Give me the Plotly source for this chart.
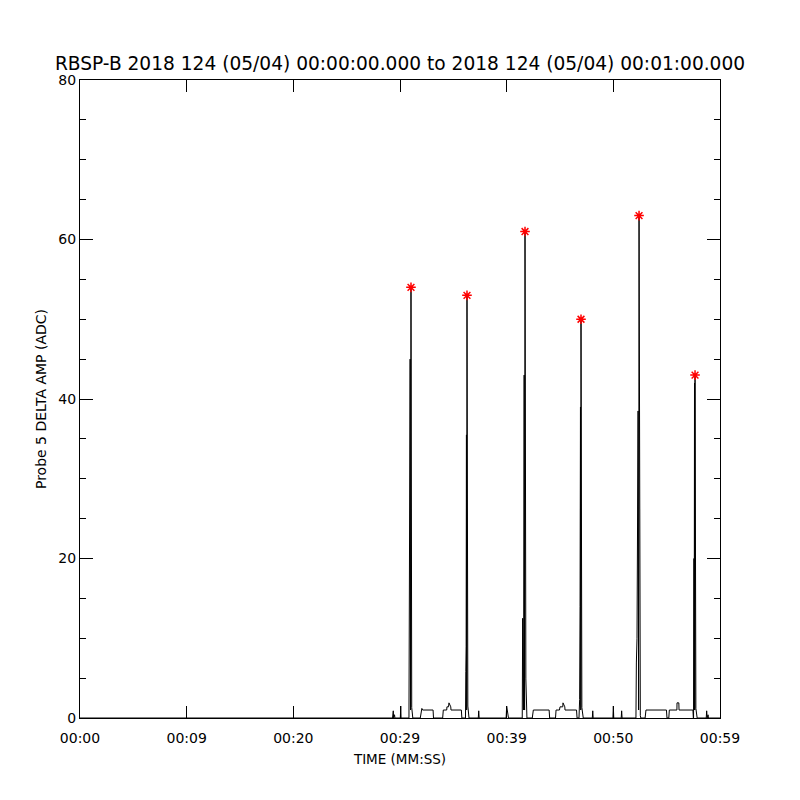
import plotly.graph_objects as go

# Trace samples (time in seconds after 00:00:00, value in ADC)
time_s = [
    0.0, 29.30, 29.37, 29.40, 29.47, 29.49, 29.52, 30.03, 30.07, 30.10,
    30.84, 30.88, 30.91, 30.95, 30.99, 31.03, 31.10, 31.15, 31.20,
    31.90, 31.97, 32.05, 32.12, 32.16, 33.10, 33.14,
    34.00, 34.06, 34.38, 34.40, 34.55, 34.59, 34.76, 34.78, 35.75, 35.80,
    36.14, 36.17, 36.20, 36.23, 36.25, 36.28, 36.36, 36.42, 36.47,
    37.34, 37.38, 37.42, 39.95, 40.00, 40.08, 40.13, 40.17,
    41.46, 41.50, 41.58, 41.64, 41.68, 41.72, 41.80, 41.85, 41.90,
    42.40, 42.50, 43.98, 44.03,
    44.58, 44.63, 44.95, 45.00, 45.26, 45.28, 45.45, 45.47, 46.55, 46.60,
    46.78, 46.84, 46.88, 46.92, 46.945, 46.97, 47.05, 47.12, 47.18,
    48.03, 48.07, 48.11, 49.96, 50.00, 50.04, 50.74, 50.78, 50.82,
    52.12, 52.16, 52.22, 52.32, 52.37, 52.41, 52.47, 52.53, 52.58,
    52.98, 53.06, 54.98, 55.03,
    55.20, 55.25, 55.96, 55.97, 56.14, 56.16, 57.46, 57.50,
    57.52, 57.56, 57.58, 57.61, 57.635, 57.66, 57.74, 57.80, 57.86,
    58.71, 58.75, 58.80, 58.88, 58.92, 60.0,
]
value_adc = [
    0, 0, 0.9, 0, 0.4, 0.4, 0, 0, 1.5, 0,
    0, 18, 0.5, 45, 1, 54, 1.3, 0.3, 0,
    0, 1, 1.2, 1, 1, 1, 0,
    0, 1, 1, 1.4, 1.4, 1.9, 1.4, 1, 1, 0,
    0, 5.8, 9, 35.5, 1, 53, 1.5, 0.3, 0,
    0, 0.9, 0, 0, 1.5, 0.4, 0.4, 0,
    0, 12.5, 1, 43, 1, 61, 4.9, 0.5, 0,
    0, 1, 1, 0,
    0, 1, 1, 1.4, 1.4, 1.9, 1.4, 1, 1, 0,
    0, 2.3, 14, 39, 1, 50, 1.3, 0.3, 0,
    0, 0.9, 0, 0, 1.5, 0, 0, 0.9, 0,
    0, 6.9, 10, 38.5, 1, 63, 1.2, 0.3, 0,
    0, 1, 1, 0,
    0, 1, 1, 1.9, 1.9, 1, 1, 0,
    0, 20, 1, 42, 1, 43, 1.2, 0.3, 0,
    0, 0.9, 0, 0.4, 0, 0,
]

# Detected peaks (red asterisks)
peak_time_s = [31.03, 36.28, 41.72, 46.97, 52.41, 57.66]
peak_adc = [54, 53, 61, 50, 63, 43]

x_tick_vals = [0, 10, 20, 30, 40, 50, 60]
x_tick_text = ["00:00", "00:09", "00:20", "00:29", "00:39", "00:50", "00:59"]
y_tick_vals = [0, 20, 40, 60, 80]

title_text = "RBSP-B 2018 124 (05/04) 00:00:00.000 to 2018 124 (05/04) 00:01:00.000"

FONT = "DejaVu Sans"

fig = go.Figure()
fig.add_trace(go.Scatter(
    x=time_s, y=value_adc, mode="lines",
    line=dict(color="black", width=1), hoverinfo="skip", showlegend=False,
))
fig.add_trace(go.Scatter(
    x=peak_time_s, y=peak_adc, mode="markers",
    marker=dict(symbol="asterisk-open", size=8, color="red",
                line=dict(color="red", width=1.5)),
    showlegend=False,
))

fig.update_layout(
    width=800, height=800,
    paper_bgcolor="white", plot_bgcolor="white",
    margin=dict(l=72, r=88, t=72, b=90),
    font=dict(family=FONT, color="black", size=14),
    title=dict(text=title_text, x=(400 - 8) / 800, xanchor="center", y=1 - 55 / 800,
               yanchor="middle", font=dict(family=FONT, size=18.6, color="black")),
)
fig.update_xaxes(
    range=[0, 60], tickmode="array", tickvals=x_tick_vals, ticktext=x_tick_text,
    ticks="inside", ticklen=12, tickwidth=1, tickcolor="black",
    showline=True, linecolor="black", linewidth=1, mirror="ticks",
    showgrid=False, zeroline=False, ticklabelstandoff=7,
    tickfont=dict(family=FONT, size=14),
    title=dict(text="TIME (MM:SS)", font=dict(family=FONT, size=13.5), standoff=9),
)
fig.update_yaxes(
    range=[0, 80], tickmode="array", tickvals=y_tick_vals,
    ticks="inside", ticklen=13, tickwidth=1, tickcolor="black",
    showline=True, linecolor="black", linewidth=1, mirror="ticks",
    showgrid=False, zeroline=False,
    minor=dict(dtick=5, ticks="inside", ticklen=6, tickwidth=1, tickcolor="black", showgrid=False),
    tickfont=dict(family=FONT, size=14),
    title=dict(text="Probe 5 DELTA AMP (ADC)", font=dict(family=FONT, size=14), standoff=8),
)

fig.write_html("out.html")
